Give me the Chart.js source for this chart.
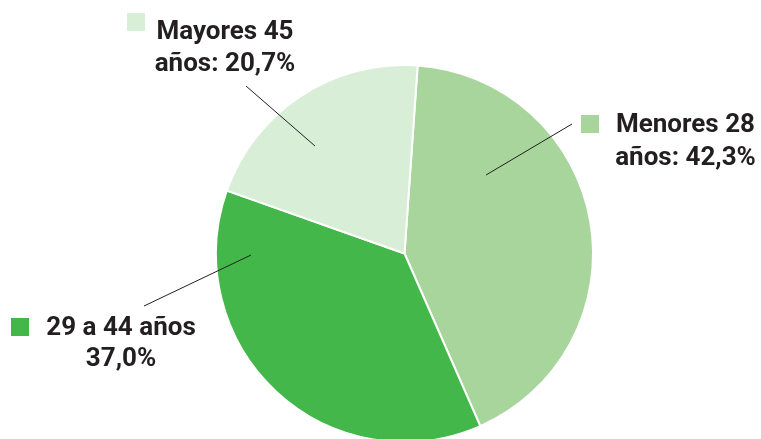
<!DOCTYPE html>
<html>
<head>
<meta charset="utf-8">
<script src="https://cdn.jsdelivr.net/npm/chart.js@4.4.1/dist/chart.umd.min.js"></script>
<style>
  html, body { margin: 0; padding: 0; background: #fff; overflow: hidden; }
  #wrap { position: absolute; left: 0; top: 0; width: 761px; height: 443px; }
</style>
</head>
<body>
<div id="wrap"><canvas id="pie"></canvas></div>
<script>
// data
var categories = ['Menores 28', '29 a 44 años', 'Mayores 45'];
var shares = [42.3, 37.0, 20.7];
var labelLines = [
  ['Menores 28', 'años: 42,3%'],
  ['29 a 44 años', '37,0%'],
  ['Mayores 45', 'años: 20,7%']
];
var sliceColors = ['#a8d59c', '#44b74b', '#d9eed6'];

// label layout, offsets from pie centre (px)
var labelLayout = [
  { tx: 281, ty: [-121.5, -88.5], box: [176.5, -138.5], line: [[167.5, -129.5], [81.5, -78.5]] },
  { tx: -283.5, ty: [81.5, 112.5], box: [-393.5, 64.5], line: [[-260.5, 52.5], [-153.5, 1.5]] },
  { tx: -179.5, ty: [-214.5, -182.5], box: [-277.5, -240.5], line: [[-158.5, -167.5], [-89.5, -107.5]] }
];

var calloutPlugin = {
  id: 'callouts',
  afterDraw: function (chart) {
    var ctx = chart.ctx;
    var arcs = chart.getDatasetMeta(0).data;
    if (!arcs.length) return;
    var cx = arcs[0].x, cy = arcs[0].y;
    ctx.save();
    labelLayout.forEach(function (l, i) {
      // leader line
      ctx.strokeStyle = '#231f20';
      ctx.lineWidth = 1;
      ctx.beginPath();
      ctx.moveTo(cx + l.line[0][0], cy + l.line[0][1]);
      ctx.lineTo(cx + l.line[1][0], cy + l.line[1][1]);
      ctx.stroke();
      // colour square
      ctx.fillStyle = sliceColors[i];
      ctx.fillRect(cx + l.box[0], cy + l.box[1], 18, 18);
      // text
      ctx.fillStyle = '#231f20';
      ctx.font = 'bold 26px Roboto';
      ctx.textAlign = 'center';
      ctx.textBaseline = 'alphabetic';
      labelLines[i].forEach(function (t, j) {
        ctx.fillText(t, cx + l.tx, cy + l.ty[j]);
      });
    });
    ctx.restore();
  }
};

new Chart(document.getElementById('pie'), {
  type: 'pie',
  data: {
    labels: categories,
    datasets: [{
      data: shares,
      backgroundColor: sliceColors,
      borderColor: '#ffffff',
      borderWidth: 2
    }]
  },
  options: {
    responsive: true,
    maintainAspectRatio: false,
    animation: false,
    rotation: 4,
    layout: { padding: { left: 215, right: 167, top: 64, bottom: 0 } },
    plugins: {
      legend: { display: false },
      tooltip: { enabled: false }
    }
  },
  plugins: [calloutPlugin]
});
</script>
</body>
</html>
